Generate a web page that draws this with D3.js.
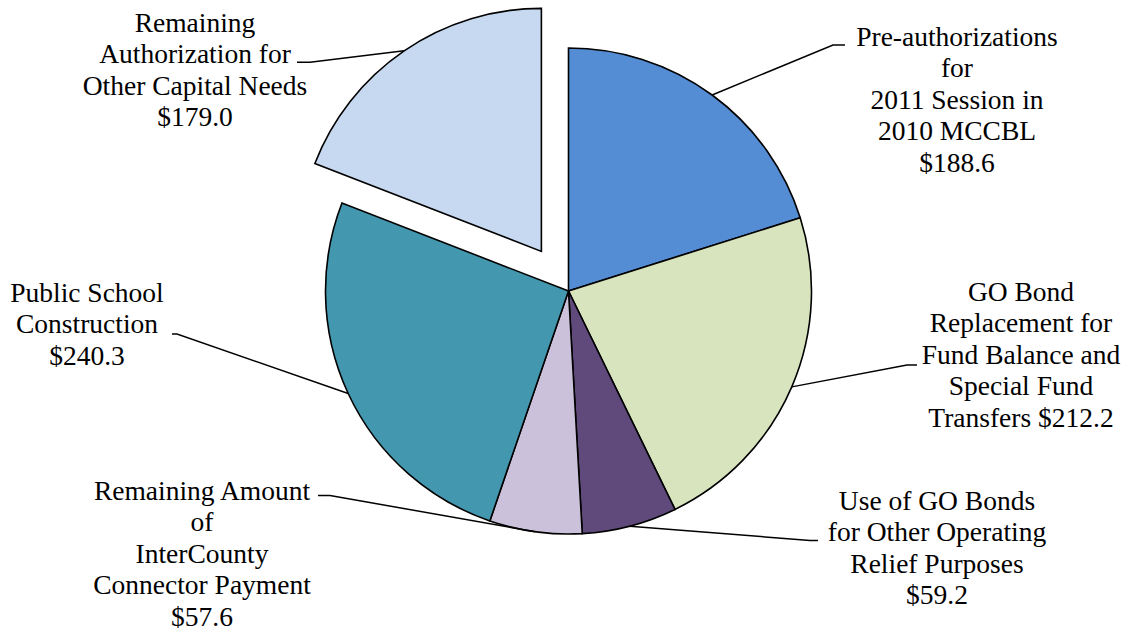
<!DOCTYPE html>
<html lang="en">

<head>
    <meta charset="UTF-8">
    <title>GO Bond Authorization Pie</title>
    <script src="https://d3js.org/d3.v7.min.js"></script>
</head>

<style>
    body {
        margin: 0;
        background: #fff;
    }

    .slice-label {
        font-family: "Liberation Serif", "Times New Roman", "DejaVu Serif", serif;
        font-size: 27.5px;
        text-anchor: middle;
        fill: #000;
    }
</style>

<body>
    <svg class="chart"></svg>

    <script>
        const svgW = 1125;
        const svgH = 632;

        // slice data, clockwise from 12 o'clock ({v} = formatted value)
        const categories = [
            ["Pre-authorizations", "for", "2011 Session in", "2010 MCCBL", "{v}"],
            ["GO Bond", "Replacement for", "Fund Balance and", "Special Fund", "Transfers {v}"],
            ["Use of GO Bonds", "for Other Operating", "Relief Purposes", "{v}"],
            ["Remaining Amount", "of", "InterCounty", "Connector Payment", "{v}"],
            ["Public School", "Construction", "{v}"],
            ["Remaining", "Authorization for", "Other Capital Needs", "{v}"]
        ];
        const values = [188.6, 212.2, 59.2, 57.6, 240.3, 179.0];
        const colors = ["#548DD4", "#D7E4BD", "#604A7B", "#CCC1DA", "#4398B0", "#C6D9F1"];
        const exploded = [false, false, false, false, false, true];

        // label placement: text centre x, first baseline y, leader start x/y, leader bend x
        const labelX = [957, 1021, 937, 202, 87, 195];
        const labelY = [45.7, 300.7, 509.5, 499.5, 301.7, 31.7];
        const leaderX = [845, 917, 818, 318, 172, 297];
        const leaderY = [45, 365, 540.5, 495.5, 334, 62.3];
        const leaderBend = [833, 907, 810, 330, 177, 310];

        const cx = 568.5, cy = 291, radius = 243, explodeDist = 48, lineH = 31.5;
        const fmt = v => "$" + d3.format(".1f")(v);

        const svg = d3.select(".chart")
            .attr("viewBox", `0 0 ${svgW} ${svgH}`)
            .attr("width", svgW)
            .attr("height", svgH);

        const pie = d3.pie().sort(null).value(d => d);
        const arcs = pie(values);
        const arc = d3.arc().innerRadius(0).outerRadius(radius);

        const offset = (d, i) => {
            if (!exploded[i]) return [0, 0];
            const a = (d.startAngle + d.endAngle) / 2;
            return [Math.sin(a) * explodeDist, -Math.cos(a) * explodeDist];
        };

        const g = svg.append("g").attr("transform", `translate(${cx},${cy})`);

        // slices
        g.selectAll("path.slice")
            .data(arcs)
            .join("path")
            .attr("class", "slice")
            .attr("transform", (d, i) => `translate(${offset(d, i)})`)
            .attr("d", arc)
            .attr("fill", (d, i) => colors[i])
            .attr("stroke", "#000")
            .attr("stroke-width", 1.6)
            .attr("stroke-linejoin", "miter");

        // leader lines: label -> bend -> mid point of slice arc
        const line = d3.line();
        g.selectAll("path.leader")
            .data(arcs)
            .join("path")
            .attr("class", "leader")
            .attr("d", (d, i) => {
                const a = (d.startAngle + d.endAngle) / 2;
                const o = offset(d, i);
                const end = [o[0] + Math.sin(a) * radius, o[1] - Math.cos(a) * radius];
                return line([
                    [leaderX[i] - cx, leaderY[i] - cy],
                    [leaderBend[i] - cx, leaderY[i] - cy],
                    end
                ]);
            })
            .attr("fill", "none")
            .attr("stroke", "#000")
            .attr("stroke-width", 1.5);

        // labels
        const labels = svg.append("g").selectAll("text")
            .data(arcs)
            .join("text")
            .attr("class", "slice-label")
            .attr("x", (d, i) => labelX[i])
            .attr("y", (d, i) => labelY[i]);

        labels.each(function (d, i) {
            d3.select(this).selectAll("tspan")
                .data(categories[i])
                .join("tspan")
                .attr("x", labelX[i])
                .attr("y", (t, j) => labelY[i] + j * lineH)
                .text(t => t.replace("{v}", fmt(values[i])));
        });
    </script>
</body>

</html>
